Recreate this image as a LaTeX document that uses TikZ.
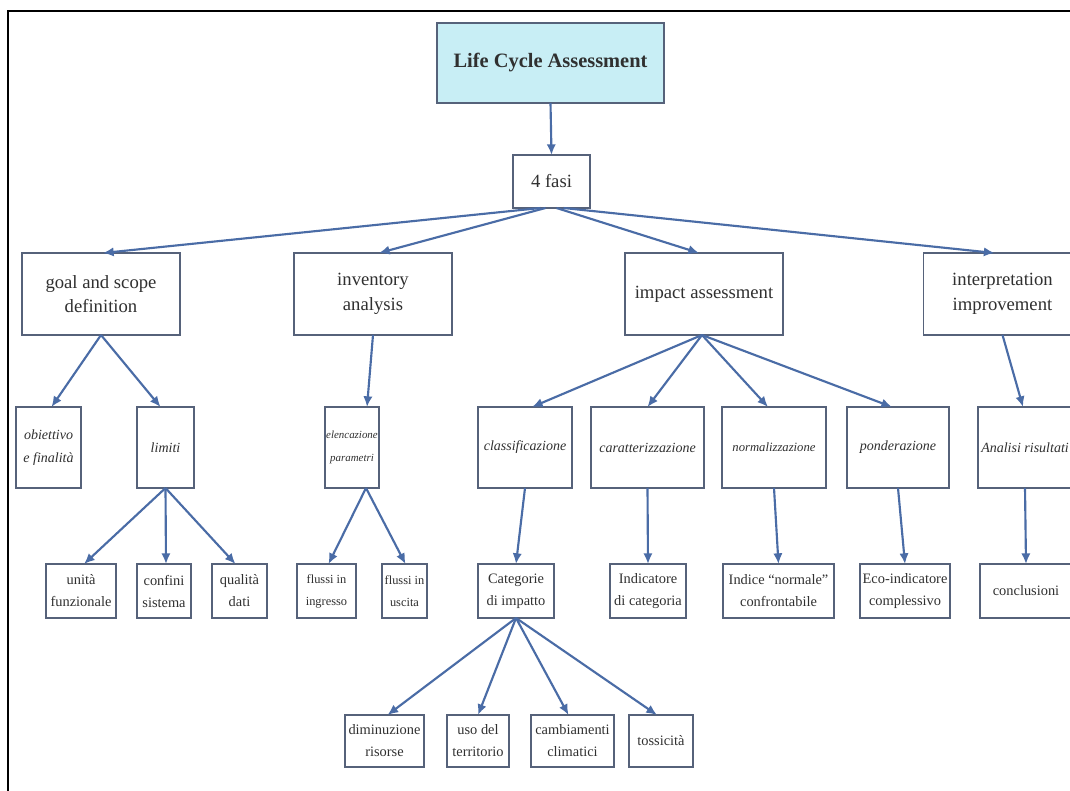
\documentclass[tikz,border=0pt]{standalone}
\usepackage{fontspec}
\setmainfont{Liberation Serif}
\usetikzlibrary{arrows.meta,calc}

\definecolor{edge}{HTML}{4A6CA6}
\definecolor{boxline}{HTML}{56627A}
\definecolor{ink}{HTML}{303030}
\definecolor{cyanfill}{HTML}{C8EEF5}

\begin{document}
\begin{tikzpicture}[x=0.75pt,y=-0.75pt,
  box/.style={draw=boxline, line width=1.1pt, inner sep=0pt, outer sep=0pt, align=center, text=ink},
  lvlone/.style={box, minimum width=118.5pt, minimum height=61.5pt, font=\fontsize{14}{18.4}\selectfont},
  lvltwo/.style={box, minimum height=60.75pt, font=\fontsize{10.5}{17}\selectfont\itshape},
  lvlthree/.style={box, minimum height=40.5pt, font=\fontsize{10.8}{16.5}\selectfont},
  lvlfour/.style={box, minimum height=39pt, font=\fontsize{10.8}{16.5}\selectfont},
  arr/.style={draw=edge, line width=1.6pt, -{Latex[length=8pt,width=7pt]}},
]
\useasboundingbox (0,0) rectangle (1070,791);
\clip (0,0) rectangle (1070,791);
\fill[white] (0,0) rectangle (1070,791);
\draw[black, line width=2pt] (8,800) -- (8,11) -- (1080,11);

% root and phases
\node[box, fill=cyanfill, minimum width=170.25pt, minimum height=60pt,
      font=\fontsize{15.3}{18}\selectfont\bfseries] (lca) at (550.5,63) {Life Cycle Assessment};
\node[box, minimum width=57.75pt, minimum height=39.75pt,
      font=\fontsize{14}{18}\selectfont] (fasi) at (551.5,181.5) {4 fasi};

\node[lvlone] (goal) at (101,294) {goal and scope\\definition};
\node[lvlone] (inv) at (373,294) {inventory\\analysis};
\node[lvlone] (imp) at (704,294) {impact assessment};
\node[lvlone] (intp) at (1002.5,294) {interpretation\\improvement};

% second level
\node[lvltwo, minimum width=48.75pt] (obj) at (48.5,447.5) {obiettivo\\e finalità};
\node[lvltwo, minimum width=42.75pt] (lim) at (165.5,447.5) {limiti};
\node[lvltwo, minimum width=40.5pt, font=\fontsize{8.2}{17}\selectfont\itshape] (elen) at (352,447.5) {elencazione\\parametri};
\node[lvltwo, minimum width=70.5pt] (cls) at (525,447.5) {classificazione};
\node[lvltwo, minimum width=84.75pt] (car) at (647.5,447.5) {caratterizzazione};
\node[lvltwo, minimum width=78pt, font=\fontsize{9.5}{17}\selectfont\itshape] (nor) at (774,447.5) {normalizzazione};
\node[lvltwo, minimum width=76.5pt] (pon) at (898,447.5) {ponderazione};
\node[lvltwo, minimum width=70.5pt] (ana) at (1025,447.5) {Analisi risultati};

% third level
\node[lvlthree, minimum width=52.5pt] (uni) at (81,591) {unità\\funzionale};
\node[lvlthree, minimum width=40.5pt] (con) at (164,591) {confini\\sistema};
\node[lvlthree, minimum width=41.25pt] (qua) at (239.5,591) {qualità\\dati};
\node[lvlthree, minimum width=44.25pt, font=\fontsize{9.3}{16.5}\selectfont] (fin) at (326.5,591) {flussi in\\ingresso};
\node[lvlthree, minimum width=33.75pt, font=\fontsize{9.3}{16.5}\selectfont] (fout) at (404.5,591) {flussi in\\uscita};
\node[lvlthree, minimum width=57pt] (cat) at (516,591) {Categorie\\di impatto};
\node[lvlthree, minimum width=57pt] (ind) at (648,591) {Indicatore\\di categoria};
\node[lvlthree, minimum width=83.25pt] (idx) at (778.5,591) {Indice “normale”\\confrontabile};
\node[lvlthree, minimum width=67.5pt] (eco) at (905,591) {Eco-indicatore\\complessivo};
\node[lvlthree, minimum width=69pt] (conc) at (1026,591) {conclusioni};

% impact categories
\node[lvlfour, minimum width=59.25pt] (dim) at (384.5,741) {diminuzione\\risorse};
\node[lvlfour, minimum width=46.5pt] (uso) at (478,741) {uso del\\territorio};
\node[lvlfour, minimum width=62.25pt] (cam) at (572.5,741) {cambiamenti\\climatici};
\node[lvlfour, minimum width=48pt] (tos) at (661,741) {tossicità};

% connectors
\draw[arr] (lca.south) -- (fasi.north);
\draw[arr] ($(fasi.south)+(-11,0)$) -- ($(goal.north)+(2,0)$);
\draw[arr] ($(fasi.south)+(-6,0)$) -- ($(inv.north)+(6,0)$);
\draw[arr] ($(fasi.south)+(5,0)$) -- ($(imp.north)+(-5,0)$);
\draw[arr] ($(fasi.south)+(12,0)$) -- ($(intp.north)+(-8,0)$);

\draw[arr] (goal.south) -- ($(obj.north)+(3,0)$);
\draw[arr] (goal.south) -- ($(lim.north)+(-5,0)$);
\draw[arr] (inv.south) -- ($(elen.north)+(15,0)$);
\draw[arr] ($(imp.south)+(-2,0)$) -- ($(cls.north)+(7,0)$);
\draw[arr] ($(imp.south)+(-2,0)$) -- (car.north);
\draw[arr] ($(imp.south)+(-2,0)$) -- ($(nor.north)+(-6,0)$);
\draw[arr] ($(imp.south)+(-2,0)$) -- ($(pon.north)+(-6,0)$);
\draw[arr] (intp.south) -- ($(ana.north)+(-2,0)$);

\draw[arr] (lim.south) -- ($(uni.north)+(3,0)$);
\draw[arr] (lim.south) -- ($(con.north)+(2,0)$);
\draw[arr] (lim.south) -- ($(qua.north)+(-4,0)$);
\draw[arr] ($(elen.south)+(14,0)$) -- ($(fin.north)+(2,0)$);
\draw[arr] ($(elen.south)+(14,0)$) -- ($(fout.north)+(1,0)$);
\draw[arr] (cls.south) -- (cat.north);
\draw[arr] (car.south) -- (ind.north);
\draw[arr] (nor.south) -- (idx.north);
\draw[arr] (pon.south) -- (eco.north);
\draw[arr] (ana.south) -- (conc.north);

\draw[arr] (cat.south) -- ($(dim.north)+(3,0)$);
\draw[arr] (cat.south) -- (uso.north);
\draw[arr] (cat.south) -- ($(cam.north)+(-4,0)$);
\draw[arr] (cat.south) -- ($(tos.north)+(-4,0)$);
\end{tikzpicture}
\end{document}
